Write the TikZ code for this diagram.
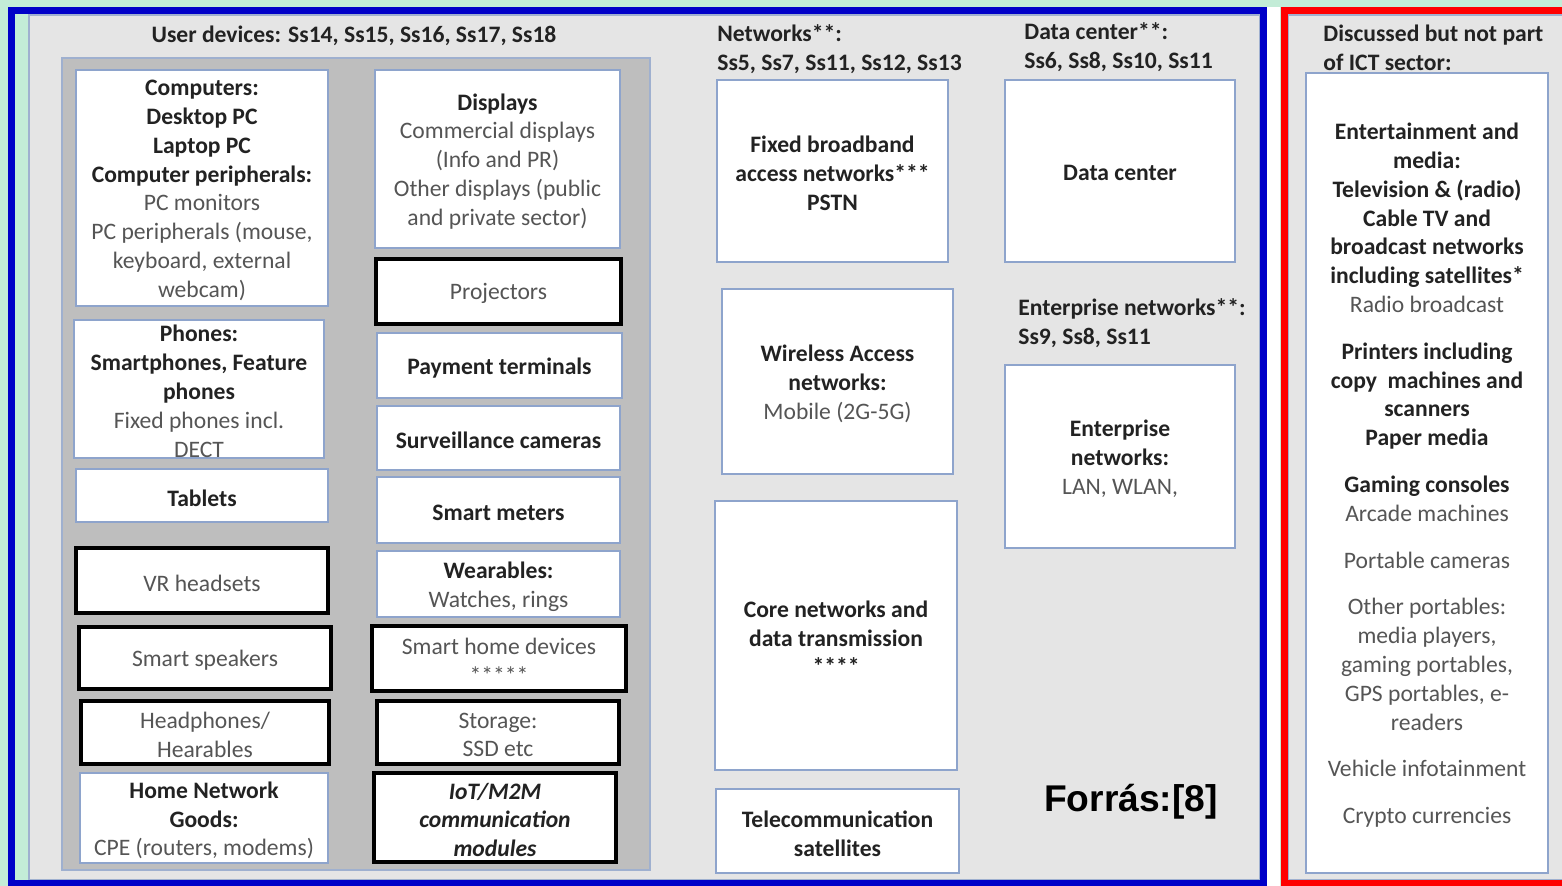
\documentclass[tikz,border=0pt]{standalone}
\usepackage{fontspec}
\setmainfont{Carlito}
\newfontfamily\arialfont{Liberation Sans}

\definecolor{mint}{HTML}{C3ECD7}
\definecolor{frameblue}{HTML}{0000C8}
\definecolor{framered}{HTML}{FF0000}
\definecolor{panel}{HTML}{E5E5E5}
\definecolor{darkpanel}{HTML}{BEBEBE}
\definecolor{panelline}{HTML}{9FB0CF}
\definecolor{thinblue}{HTML}{8EA4CC}
\definecolor{ink}{HTML}{222222}
\definecolor{soft}{HTML}{555555}

\newcommand\hb[1]{{\bfseries\color{ink}#1}}
% box from corner (x1,y1) to corner (x2,y2), in pixel-like units, with its label
\newcommand\boxat[7]{%
  \node[#6, minimum width={(#4-#2)*0.5pt}, minimum height={(#5-#3)*0.5pt}]
    (#1) at ({(#2+#4)/2},{(#3+#5)/2}) {};
  \node[boxtext] (#1-t) at ([yshift=-1.2pt]#1.center) {#7};}

\tikzset{
  box/.style={draw=thinblue, line width=0.75pt, fill=white, inner sep=0pt},
  heavybox/.style={box, draw=black, line width=2.2pt},
  boxtext/.style={inner sep=0pt, align=center,
    font=\fontsize{11.8}{14.4}\selectfont, text=soft},
  head/.style={inner sep=0pt, align=left,
    font=\fontsize{11.8}{14.4}\selectfont\bfseries, text=ink}
}

\begin{document}
\begin{tikzpicture}[x=0.5pt,y=-0.5pt]
\clip (0,0) rectangle (1562,886);
\fill[mint] (0,0) rectangle (1562,886);
\fill[white] (1267,7) rectangle (1280,886);

% ICT sector frame
\filldraw[fill=panel, draw=panelline, line width=0.6pt] (29,15) rectangle (1260,880);
\draw[frameblue, line width=3.5pt] (11.5,11) rectangle (1263.5,883.5);

% non-ICT frame
\filldraw[fill=panel, draw=panelline, line width=0.6pt] (1288,15) rectangle (1600,880);
\draw[framered, line width=3.5pt] (1284,11) rectangle (1600,883.5);

% user devices panel
\filldraw[fill=darkpanel, draw=panelline, line width=1pt] (62,58) rectangle (650,870);

% headings
\node[head] (udh) at (354,36) {User devices: Ss14, Ss15, Ss16, Ss17, Ss18};
\node[head, anchor=west] (neth) at (717,49) {Networks**:\\Ss5, Ss7, Ss11, Ss12, Ss13};
\node[head, anchor=west] (dch) at (1024,47.5) {Data center**:\\Ss6, Ss8, Ss10, Ss11};
\node[head, anchor=west] (enth) at (1018,323.5) {Enterprise networks**:\\Ss9, Ss8, Ss11};
\node[head, anchor=west] (icth) at (1323,47.5) {Discussed but not part\\of ICT sector:};

% user devices, left column
\boxat{comp}{76}{70}{328}{306}{box}{\hb{Computers:}\\\hb{Desktop PC}\\\hb{Laptop PC}\\\hb{Computer peripherals:}\\PC monitors\\PC peripherals (mouse,\\keyboard, external\\webcam)}
\boxat{phone}{74}{320}{324}{458}{box}{\hb{Phones:}\\\hb{Smartphones, Feature}\\\hb{phones}\\Fixed phones incl.\\DECT}
\boxat{tab}{76}{469}{328}{522}{box}{\hb{Tablets}}
\boxat{vr}{76}{548}{328}{613}{heavybox}{VR headsets}
\boxat{spk}{79}{627}{331}{689}{heavybox}{Smart speakers}
\boxat{head}{81}{701}{329}{764}{heavybox}{Headphones/\\Hearables}
\boxat{home}{80}{773}{328}{863}{box}{\hb{Home Network}\\\hb{Goods:}\\CPE (routers, modems)}

% user devices, right column
\boxat{disp}{375}{70}{620}{248}{box}{\hb{Displays}\\Commercial displays\\(Info and PR)\\Other displays (public\\and private sector)}
\boxat{proj}{376}{259}{621}{324}{heavybox}{Projectors}
\boxat{pay}{377}{333}{622}{398}{box}{\hb{Payment terminals}}
\boxat{cam}{377}{406}{620}{470}{box}{\hb{Surveillance cameras}}
\boxat{meter}{377}{477}{620}{543}{box}{\hb{Smart meters}}
\boxat{wear}{377}{551}{620}{617}{box}{\hb{Wearables:}\\Watches, rings}
\boxat{shd}{372}{626}{626}{691}{heavybox}{Smart home devices\\*****}
\boxat{stor}{377}{701}{619}{764}{heavybox}{Storage:\\SSD etc}
\boxat{iot}{374}{773}{616}{862}{heavybox}{\hb{\itshape IoT/M2M}\\\hb{\itshape communication}\\\hb{\itshape modules}}

% networks
\boxat{fixed}{717}{80}{948}{262}{box}{\hb{Fixed broadband}\\\hb{access networks***}\\\hb{PSTN}}
\boxat{wless}{722}{289}{953}{474}{box}{\hb{Wireless Access}\\\hb{networks:}\\Mobile (2G-5G)}
\boxat{core}{715}{501}{957}{770}{box}{\hb{Core networks and}\\\hb{data transmission}\\\hb{****}}
\boxat{sat}{716}{789}{959}{873}{box}{\hb{Telecommunication}\\\hb{satellites}}

% data center and enterprise
\boxat{dc}{1005}{80}{1235}{262}{box}{\hb{Data center}}
\boxat{ent}{1005}{365}{1235}{548}{box}{\hb{Enterprise}\\\hb{networks:}\\LAN, WLAN,}

\node[font=\arialfont\bfseries\fontsize{18.6}{20}\selectfont, text=black, inner sep=0pt]
  (src) at (1131,802) {Forrás:[8]};

% outside the ICT sector
\boxat{other}{1306}{73}{1548}{873}{box}{\hb{Entertainment and}\\\hb{media:}\\\hb{Television \& (radio)}\\\hb{Cable TV and}\\\hb{broadcast networks}\\\hb{including satellites*}\\Radio broadcast\\[9pt]
\hb{Printers including}\\\hb{copy\ \ machines and}\\\hb{scanners}\\\hb{Paper media}\\[9pt]
\hb{Gaming consoles}\\Arcade machines\\[9pt]
Portable cameras\\[9pt]
Other portables:\\media players,\\gaming portables,\\GPS portables, e-\\readers\\[9pt]
Vehicle infotainment\\[9pt]
Crypto currencies}
\end{tikzpicture}
\end{document}
